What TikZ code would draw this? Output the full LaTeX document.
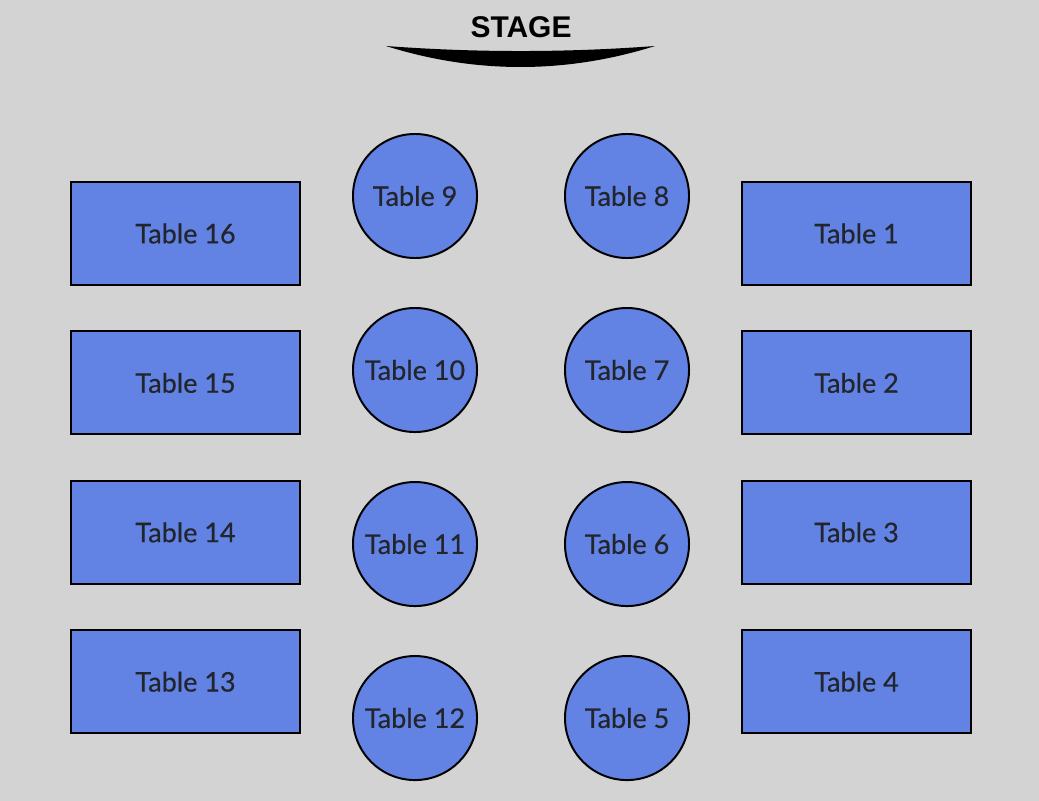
\documentclass[tikz,border=0pt]{standalone}
\usepackage{fontspec}
\setmainfont{Lato}
\newfontfamily\tablefont{Lato}[FakeBold=0.5]
\newfontfamily\stagefont{Liberation Sans}
\usetikzlibrary{positioning}
\definecolor{floorgray}{HTML}{D3D3D3}
\definecolor{tableblue}{HTML}{6283E4}
\definecolor{labelink}{HTML}{23252C}

\begin{document}
\begin{tikzpicture}[
    x=0.025cm, y=-0.025cm,
    longtable/.style={rectangle, draw, line width=1.4pt, fill=tableblue, minimum width=5.725cm, minimum height=2.575cm, text=labelink, font=\tablefont\fontsize{19.2}{22}\selectfont},
    roundtable/.style={circle, draw, line width=1.4pt, fill=tableblue, minimum size=3.1cm, inner sep=0pt, text=labelink, font=\tablefont\fontsize{19.2}{22}\selectfont}
]

% Floor
\fill [floorgray] (0,0) rectangle (1039,801);
\useasboundingbox (0,0) rectangle (1039,801);

% Stage
\node (stage) at (521,27) {\stagefont\bfseries\fontsize{21.3}{24}\selectfont STAGE};
\fill [black] (386,46) .. controls (475,52.7) and (566,52.7) .. (655,46) .. controls (566,74) and (475,74) .. (386,46);

% Left column
\node (t16) [longtable] at (185.5,233.5) {Table 16};
\node (t15) [longtable, below=1.11cm of t16] {Table 15};
\node (t14) [longtable, below=1.11cm of t15] {Table 14};
\node (t13) [longtable, below=1.11cm of t14] {Table 13};

% Inner left column
\node (t9) [roundtable] at (415,196) {Table 9};
\node (t10) [roundtable, below=1.2cm of t9] {Table 10};
\node (t11) [roundtable, below=1.2cm of t10] {Table 11};
\node (t12) [roundtable, below=1.2cm of t11] {Table 12};

% Inner right column
\node (t8) [roundtable] at (627,196) {Table 8};
\node (t7) [roundtable, below=1.2cm of t8] {Table 7};
\node (t6) [roundtable, below=1.2cm of t7] {Table 6};
\node (t5) [roundtable, below=1.2cm of t6] {Table 5};

% Right column
\node (t1) [longtable] at (856.5,233.5) {Table 1};
\node (t2) [longtable, below=1.11cm of t1] {Table 2};
\node (t3) [longtable, below=1.11cm of t2] {Table 3};
\node (t4) [longtable, below=1.11cm of t3] {Table 4};

\end{tikzpicture}
\end{document}
